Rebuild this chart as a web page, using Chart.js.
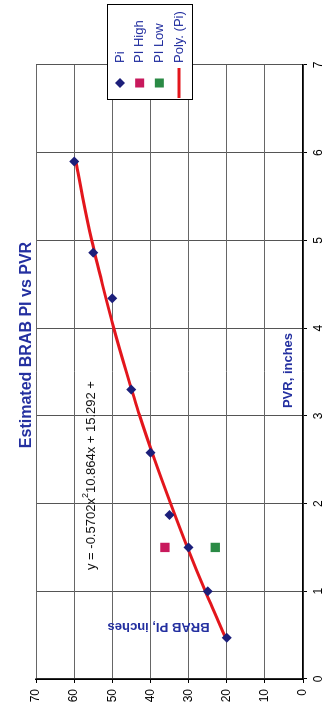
<!DOCTYPE html>
<html><head><meta charset="utf-8">
<script src="https://cdn.jsdelivr.net/npm/chart.js@4/dist/chart.umd.min.js"></script>
<style>
html,body{margin:0;padding:0;background:#fff;overflow:hidden;width:328px;height:709px;}
#wrap{position:absolute;left:0;top:0;width:709px;height:328px;transform-origin:0 0;transform:translate(0,709px) rotate(-90deg);}
</style></head><body>
<div id="wrap"><canvas id="c" width="709" height="328"></canvas></div>
<script>
// ---- data ----
const pvrValues = [0.47, 1.0, 1.5, 1.87, 2.58, 3.30, 4.34, 4.86, 5.9];
const piValues  = [20, 25, 30, 35, 40, 45, 50, 55, 60];
const piHighPvr = [1.5];
const piHighValues = [36.2];
const piLowPvr = [1.5];
const piLowValues = [23.0];
const polyPvr    = [0.47, 1.0, 1.5, 2.0, 2.5, 3.0, 3.5, 4.0, 4.5, 5.0, 5.5, 5.9];
const polyValues = [20.3, 25.6, 30.3, 34.7, 38.9, 42.8, 46.3, 49.6, 52.6, 55.4, 57.8, 59.5];
const xTickLabels = ['0','1','2','3','4','5','6','7'];
const yTickLabels = ['0','10','20','30','40','50','60','70'];
const seriesNames = ['Pi', 'PI High', 'PI Low', 'Poly. (Pi)'];
const titleText = 'Estimated BRAB PI vs PVR';
const xTitle = 'PVR, inches';
const yTitle = 'BRAB PI, inches';
const eqParts = ['y = -0.5702x', '2', '10.864x + 15.292 +'];

const FONT = '"Liberation Sans", Arial, sans-serif';
const BLUE = '#2430a0';
Chart.defaults.font.family = FONT;

const pts = (xs, ys) => xs.map((x, i) => ({x, y: ys[i]}));

const decorPlugin = {
  id: 'decor',
  afterDraw(chart) {
    const ctx = chart.ctx;
    ctx.save();
    // title
    ctx.fillStyle = BLUE;
    ctx.font = 'bold 16px ' + FONT;
    ctx.textAlign = 'center';
    ctx.textBaseline = 'middle';
    ctx.fillText(titleText, 364, 27);
    // x axis title (inside plot)
    ctx.font = 'bold 13px ' + FONT;
    ctx.fillText(xTitle, 338.5, 288);
    // y axis title (inside plot, rotated)
    ctx.save();
    ctx.translate(82, 158.5);
    ctx.rotate(-Math.PI / 2);
    ctx.fillText(yTitle, 0, 0);
    ctx.restore();
    // equation
    ctx.fillStyle = '#111';
    ctx.textAlign = 'left';
    ctx.font = '13px ' + FONT;
    let ux = 139;
    ctx.fillText(eqParts[0], ux, 91);
    ux += ctx.measureText(eqParts[0]).width;
    ctx.font = '9px ' + FONT;
    ctx.fillText(eqParts[1], ux, 86);
    ux += ctx.measureText(eqParts[1]).width;
    ctx.font = '13px ' + FONT;
    ctx.fillText(eqParts[2], ux, 91);
    // legend
    const bx = 609, by = 107, bw = 95, bh = 85;
    ctx.fillStyle = '#fff';
    ctx.fillRect(bx, by, bw, bh);
    ctx.strokeStyle = '#000';
    ctx.lineWidth = 1;
    ctx.strokeRect(bx + 0.5, by + 0.5, bw, bh);
    const ds = chart.data.datasets;
    ds.forEach((d, i) => {
      const cy = 120 + i * 19.67;
      const cx = 626;
      ctx.fillStyle = d.backgroundColor;
      if (d.showLine) {
        ctx.strokeStyle = d.borderColor;
        ctx.lineWidth = 3;
        ctx.beginPath(); ctx.moveTo(611, cy); ctx.lineTo(641, cy); ctx.stroke();
      } else if (d.pointStyle === 'rectRot') {
        ctx.beginPath();
        ctx.moveTo(cx - 5, cy); ctx.lineTo(cx, cy - 5); ctx.lineTo(cx + 5, cy); ctx.lineTo(cx, cy + 5);
        ctx.closePath(); ctx.fill();
      } else {
        ctx.fillRect(cx - 4.5, cy - 4.5, 9, 9);
      }
      ctx.fillStyle = BLUE;
      ctx.font = '13px ' + FONT;
      ctx.textAlign = 'left';
      ctx.textBaseline = 'middle';
      ctx.fillText(d.label, 646, cy);
    });
    ctx.restore();
  }
};

new Chart(document.getElementById('c'), {
  type: 'scatter',
  data: {
    datasets: [
      { label: seriesNames[0], data: pts(pvrValues, piValues), pointStyle: 'rectRot', pointRadius: 5,
        backgroundColor: '#1c1f7a', borderColor: '#1c1f7a', borderWidth: 0, order: 0 },
      { label: seriesNames[1], data: pts(piHighPvr, piHighValues), pointStyle: 'rect', pointRadius: 6.6,
        backgroundColor: '#c8195c', borderColor: '#c8195c', borderWidth: 0, order: 0 },
      { label: seriesNames[2], data: pts(piLowPvr, piLowValues), pointStyle: 'rect', pointRadius: 6.6,
        backgroundColor: '#2a8a45', borderColor: '#2a8a45', borderWidth: 0, order: 0 },
      { label: seriesNames[3], data: pts(polyPvr, polyValues), showLine: true, pointRadius: 0,
        borderColor: '#e3161c', backgroundColor: '#e3161c', borderWidth: 3, tension: 0.3,
        order: 1 }
    ]
  },
  options: {
    responsive: false,
    animation: false,
    layout: { padding: { top: 36, right: 65, left: 0, bottom: 0 } },
    plugins: { legend: { display: false }, tooltip: { enabled: false }, title: { display: false } },
    scales: {
      x: {
        type: 'linear', min: 0, max: 7,
        afterFit(s) { s.height = 25; },
        ticks: { stepSize: 1, color: '#000', font: { size: 12 }, padding: 4, maxRotation: 0,
                 callback: (v) => xTickLabels[v] },
        grid: { color: '#555', lineWidth: 1, tickLength: 4, tickColor: '#000' },
        border: { color: '#000', width: 1.5 }
      },
      y: {
        type: 'linear', min: 0, max: 70,
        afterFit(s) { s.width = 30; },
        ticks: { stepSize: 10, color: '#000', font: { size: 12 }, padding: 6,
                 callback: (v) => yTickLabels[v / 10] },
        grid: { color: '#666', lineWidth: 1, tickLength: 4, tickColor: '#000' },
        border: { color: '#000', width: 1.5 }
      }
    }
  },
  plugins: [decorPlugin]
});
</script>
</body></html>
